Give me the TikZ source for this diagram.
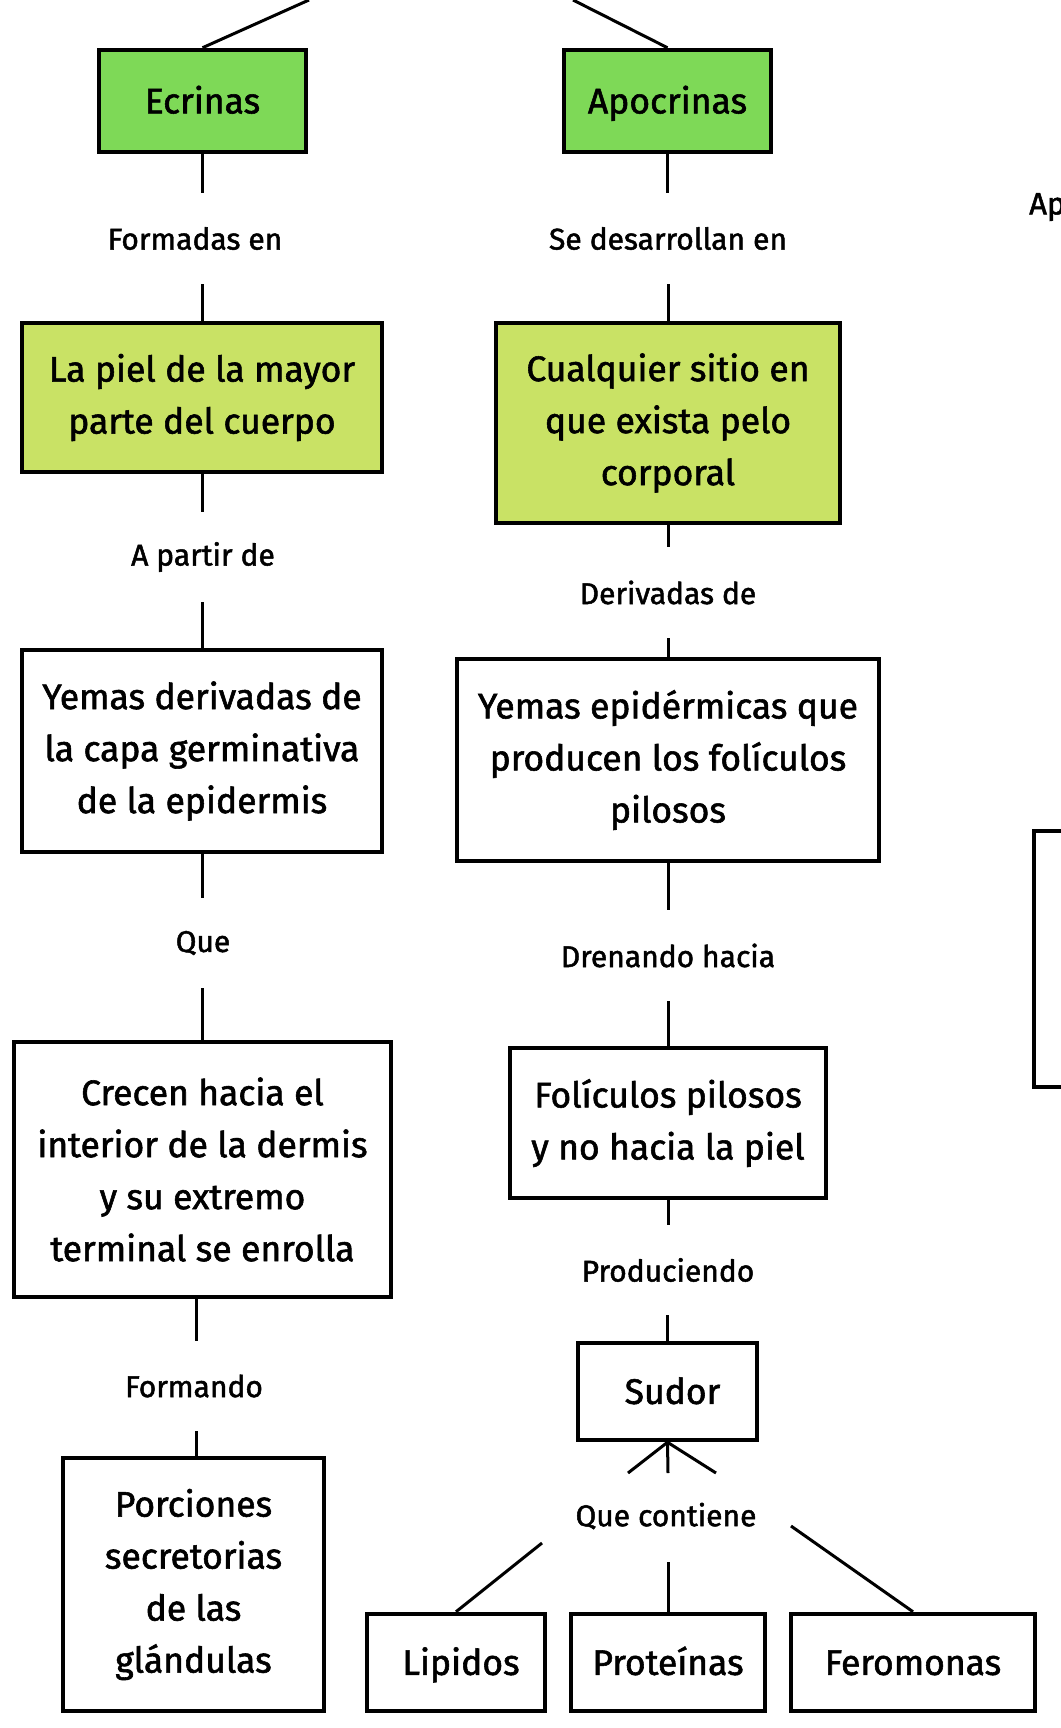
\documentclass[tikz,border=0pt]{standalone}
\usepackage{fontspec}
\setmainfont{Fira Sans}[FakeBold=1.6]
\definecolor{gA}{HTML}{7ED957}
\definecolor{gB}{HTML}{C9E265}
\newcommand{\vph}{\vphantom{Ápg}}
\begin{document}
\begin{tikzpicture}[x=1pt,y=-1pt,
  box/.style={draw=black,line width=4.5pt,align=center,inner sep=0pt,
    font=\fontsize{35.5}{52}\selectfont},
  lab/.style={inner sep=0pt,minimum height=90pt,font=\fontsize{30}{32}\selectfont},
  con/.style={line width=3pt}]
\useasboundingbox (0,0) rectangle (1060,1728);
% boxes
\node[box,fill=gA,minimum width=207pt,minimum height=102pt] (ecr) at (202.5,101) {\vph Ecrinas};
\node[box,fill=gA,minimum width=207pt,minimum height=102pt] (apo) at (667.5,101) {\vph Apocrinas};
\node[box,fill=gB,minimum width=360pt,minimum height=149pt] (piel) at (202,397.5) {La piel de la mayor\\parte del cuerpo};
\node[box,fill=gB,minimum width=344pt,minimum height=200pt] (cual) at (668,423) {Cualquier sitio en\\que exista pelo\\corporal};
\node[box,minimum width=360pt,minimum height=202pt] (yder) at (202,751) {Yemas derivadas de\\la capa germinativa\\de la epidermis};
\node[box,minimum width=422pt,minimum height=202pt] (yepi) at (668,760) {Yemas epidérmicas que\\producen los folículos\\pilosos};
\node[box,minimum width=377pt,minimum height=255pt] (crec) at (202.5,1169.5) {Crecen hacia el\\interior de la dermis\\y su extremo\\terminal se enrolla};
\node[box,minimum width=316pt,minimum height=150pt] (foli) at (668,1123) {Folículos pilosos\\y no hacia la piel};
\node[box,minimum width=179pt,minimum height=97pt] (sudor) at (667.5,1391.5) {\vph\hspace*{10pt}Sudor};
\node[box,minimum width=261pt,minimum height=253pt] (porc) at (193.5,1584.5) {Porciones\\secretorias\\de las\\glándulas};
\node[box,minimum width=178pt,minimum height=97pt] (lip) at (456,1662.5) {\vph\hspace*{10pt}Lipidos};
\node[box,minimum width=194pt,minimum height=97pt] (prot) at (668,1662.5) {\vph Proteínas};
\node[box,minimum width=244pt,minimum height=97pt] (fero) at (913,1662.5) {\vph Feromonas};
\node[box,minimum width=120pt,minimum height=256pt] (side) at (1094,959) {};
\node[anchor=west,inner sep=0pt,font=\fontsize{31}{32}\selectfont] (ap) at (1029,207) {Ap};
% labels
\node[lab] (l1) at (195,238.5) {Formadas en};
\node[lab] (r1) at (668,238.5) {Se desarrollan en};
\node[lab] (l2) at (203,557) {A partir de};
\node[lab] (r2) at (668,592.5) {Derivadas de};
\node[lab] (l3) at (203,943) {Que};
\node[lab] (r3) at (668,955.5) {Drenando hacia};
\node[lab] (l4) at (194,1386) {Formando};
\node[lab] (r4) at (668,1270) {Produciendo};
\node[inner sep=0pt,font=\fontsize{30}{32}\selectfont] (qc) at (666,1516) {Que contiene};
% free ends
\coordinate (topL) at (309,0);
\coordinate (topR) at (573,0);
\coordinate (sA) at (628,1473);
\coordinate (sB) at (668,1473);
\coordinate (sC) at (716,1473);
\coordinate (qA) at (542,1543);
\coordinate (qB) at (668,1562);
\coordinate (qC) at (791,1526);
% connectors
\draw[con] (ecr.north) -- (topL);
\draw[con] (apo.north) -- (topR);
\draw[con] (ecr.south) -- (ecr.south |- l1.north);
\draw[con] (piel.north) -- (piel.north |- l1.south);
\draw[con] (apo.south) -- (apo.south |- r1.north);
\draw[con] (cual.north) -- (cual.north |- r1.south);
\draw[con] (piel.south) -- (piel.south |- l2.north);
\draw[con] (yder.north) -- (yder.north |- l2.south);
\draw[con] (cual.south) -- (cual.south |- r2.north);
\draw[con] (yepi.north) -- (yepi.north |- r2.south);
\draw[con] (yder.south) -- (yder.south |- l3.north);
\draw[con] (crec.north) -- (crec.north |- l3.south);
\draw[con] (yepi.south) -- (yepi.south |- r3.north);
\draw[con] (foli.north) -- (foli.north |- r3.south);
\draw[con] ([xshift=-6pt]crec.south) -- ([xshift=-6pt]crec.south |- l4.north);
\draw[con] ([xshift=-6pt]porc.north -| crec.south) -- ([xshift=-6pt]crec.south |- l4.south);
\draw[con] (foli.south) -- (foli.south |- r4.north);
\draw[con] (sudor.north) -- (sudor.north |- r4.south);
\draw[con] (sudor.south) -- (sA);
\draw[con] (sudor.south) -- (sB);
\draw[con] (sudor.south) -- (sC);
\draw[con] (qA) -- (lip.north);
\draw[con] (qB) -- (prot.north);
\draw[con] (qC) -- (fero.north);
\end{tikzpicture}
\end{document}
